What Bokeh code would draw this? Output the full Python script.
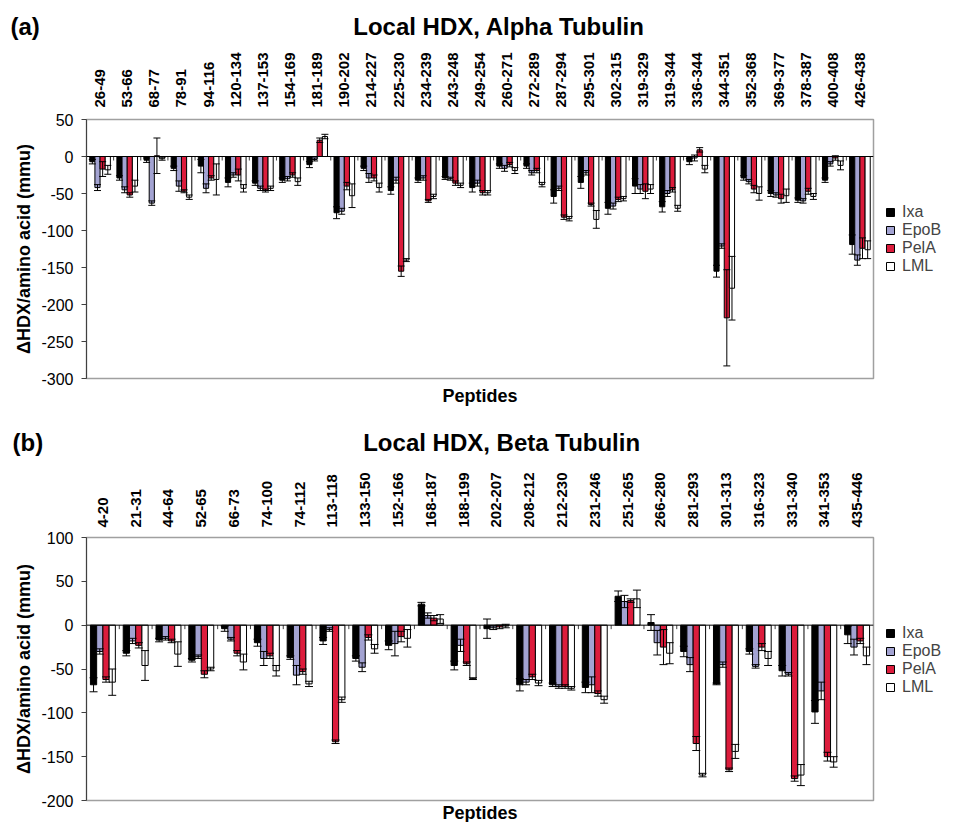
from bokeh.plotting import figure
from bokeh.models import (Range1d, FactorRange, Whisker, TeeHead, Legend, LegendItem,
                          Title, FixedTicker, ColumnDataSource, Span)
from bokeh.transform import dodge
from bokeh.layouts import column
from bokeh.embed import file_html
from bokeh.resources import INLINE

# ---------------- data: panel (a) Alpha tubulin ----------------
cats_a = ["26-49", "53-66", "68-77", "78-91", "94-116", "120-134", "137-153", "154-169",
          "181-189", "190-202", "214-227", "225-230", "234-239", "243-248", "249-254",
          "260-271", "272-289", "287-294", "295-301", "302-315", "319-329", "319-344",
          "336-344", "344-351", "352-368", "369-377", "378-387", "400-408", "426-438"]
ixa_a = [-7, -29, -5, -16, -13, -35, -36, -32, -11, -76, -16, -46, -32, -29, -42, -13, -13,
         -54, -35, -70, -40, -68, -7, -155, -29, -50, -59, -32, -119]
ixa_a_err = [3, 3, 3, 3, 9, 6, 3, 3, 4, 8, 3, 5, 3, 2, 6, 3, 3, 9, 8, 8, 10, 7, 4, 8, 3, 4,
             3, 3, 13]
epob_a = [-42, -45, -63, -40, -43, -25, -43, -30, -4, -74, -29, -32, -29, -30, -36, -16, -22,
          -43, -22, -67, -44, -50, -2, -121, -34, -52, -60, -10, -140]
epob_a_err = [4, 4, 3, 7, 6, 3, 3, 3, 2, 4, 6, 4, 3, 2, 4, 4, 3, 3, 3, 4, 6, 4, 4, 3, 3, 3,
              3, 3, 7]
pela_a = [-17, -52, 1, -47, -29, -25, -46, -25, 22, -40, -29, -155, -60, -36, -49, -11, -19,
          -82, -65, -58, -47, -45, 9, -218, -44, -57, -47, -2, -124]
pela_a_err = [10, 3, 24, 2, 3, 8, 2, 3, 3, 5, 4, 7, 2, 3, 3, 3, 3, 3, 2, 3, 10, 3, 3, 65, 5,
              6, 4, 3, 14]
lml_a = [-18, -40, -3, -55, -31, -43, -43, -34, 27, -53, -42, -140, -54, -39, -49, -19, -38,
         -84, -85, -57, -44, -70, -17, -178, -50, -53, -54, -12, -126]
lml_a_err = [6, 8, 2, 3, 21, 5, 3, 5, 3, 16, 6, 2, 3, 3, 3, 4, 3, 3, 12, 3, 6, 4, 5, 43, 9, 9,
             4, 6, 12]
yticks_a = [-300, -250, -200, -150, -100, -50, 0, 50]

# ---------------- data: panel (b) Beta tubulin ----------------
cats_b = ["4-20", "21-31", "44-64", "52-65", "66-73", "74-100", "74-112", "113-118", "133-150",
          "152-166", "168-187", "188-199", "202-207", "208-212", "212-230", "231-246",
          "251-265", "266-280", "281-293", "301-313", "316-323", "331-340", "341-353", "435-446"]
ixa_b = [-68, -32, -17, -40, -4, -20, -37, -18, -38, -23, 24, -46, -4, -68, -68, -71, 33, 3,
         -30, -67, -30, -52, -99, -11]
ixa_b_err = [8, 3, 2, 2, 3, 4, 2, 4, 3, 5, 2, 5, 11, 7, 2, 6, 6, 9, 6, 1, 3, 6, 13, 10]
epob_b = [-30, -18, -15, -36, -16, -38, -57, -5, -48, -21, 11, -23, -3, -65, -70, -68, 27, -20,
          -45, -45, -47, -56, -75, -25]
epob_b_err = [3, 3, 2, 2, 2, 8, 11, 2, 5, 14, 3, 7, 2, 3, 2, 9, 7, 14, 8, 3, 2, 2, 10, 9]
pela_b = [-62, -23, -18, -56, -32, -35, -53, -133, -14, -13, 8, -44, -2, -59, -70, -78, 28,
          -25, -135, -165, -25, -175, -150, -18]
pela_b_err = [3, 3, 2, 4, 3, 3, 3, 2, 3, 6, 3, 2, 2, 3, 2, 3, 2, 20, 8, 2, 4, 3, 5, 3]
lml_b = [-65, -46, -33, -50, -42, -52, -67, -85, -27, -15, 7, -61, -1, -66, -72, -85, 30, -32,
         -171, -144, -38, -171, -156, -35]
lml_b_err = [15, 17, 14, 2, 9, 6, 3, 3, 5, 10, 5, 1, 2, 3, 2, 4, 10, 12, 2, 8, 8, 12, 6, 10]
yticks_b = [-200, -150, -100, -50, 0, 50, 100]

series = ["Ixa", "EpoB", "PelA", "LML"]
colors = ["#000000", "#A3A3D2", "#DC1C3C", "#FFFFFF"]
offsets = [-0.285, -0.095, 0.095, 0.285]
FONT = "Liberation Sans"
NBSP = "\u00a0"


def make_panel(tag, title, cats, vals, errs, yticks, frame_h, top_b, bottom_b, legend_vy,
               cap, label_standoff, title_standoff, title_offset, n_gap, pep_standoff):
    ymin, ymax = yticks[0], yticks[-1]
    p = figure(x_range=FactorRange(*cats, range_padding=0, factor_padding=0),
               y_range=Range1d(ymin, ymax), frame_width=787, frame_height=frame_h,
               x_axis_location="above", output_backend="svg", toolbar_location=None,
               min_border_left=86, min_border_right=80, min_border_top=top_b,
               min_border_bottom=bottom_b)
    p.background_fill_color = "white"
    p.border_fill_color = "white"
    p.outline_line_color = "#A0A0A0"
    p.outline_line_width = 1.5
    p.xgrid.visible = False
    p.ygrid.visible = False

    # panel tag + title on one line
    p.title.text = tag + NBSP * n_gap + title
    p.title.text_font = FONT
    p.title.text_font_size = "24px"
    p.title.text_font_style = "bold"
    p.title.text_color = "black"
    p.title.align = "left"
    p.title.offset = title_offset
    p.title.standoff = title_standoff

    # top category axis
    xa = p.xaxis[0]
    xa.major_label_orientation = "vertical"
    xa.major_label_text_font = FONT
    xa.major_label_text_font_size = "15px"
    xa.major_label_text_font_style = "bold"
    xa.major_label_text_color = "black"
    xa.axis_line_color = None
    xa.major_tick_line_color = None
    xa.major_tick_out = 0
    xa.major_tick_in = 0
    xa.major_label_standoff = label_standoff

    # y axis
    ya = p.yaxis[0]
    ya.ticker = FixedTicker(ticks=yticks)
    ya.major_label_overrides = {t: str(t) for t in yticks}
    ya.minor_tick_line_color = None
    ya.major_tick_out = 5
    ya.major_tick_in = 0
    ya.axis_line_color = "#404040"
    ya.major_tick_line_color = "#404040"
    ya.major_label_text_font = FONT
    ya.major_label_text_font_size = "16px"
    ya.major_label_text_color = "black"
    ya.major_label_standoff = 8
    ya.axis_label = "ΔHDX/amino acid (mmu)"
    ya.axis_label_text_font = FONT
    ya.axis_label_text_font_size = "18px"
    ya.axis_label_text_font_style = "bold"
    ya.axis_label_text_color = "black"
    ya.axis_label_standoff = 4

    data = dict(cat=cats)
    for s, v, e in zip(series, vals, errs):
        data[s] = v
        data[s + "_hi"] = [a + b for a, b in zip(v, e)]
        data[s + "_lo"] = [a - b for a, b in zip(v, e)]
    src = ColumnDataSource(data)

    # zero line with small separator ticks between categories
    p.add_layout(Span(location=0, dimension="width", line_color="black", line_width=1))
    tick_len = 4 * (ymax - ymin) / frame_h
    p.segment(x0=dodge("cat", -0.5, range=p.x_range), x1=dodge("cat", -0.5, range=p.x_range),
              y0=0, y1=-tick_len, source=ColumnDataSource(dict(cat=cats)),
              line_color="#404040", line_width=1)

    items = []
    for s, c, off in zip(series, colors, offsets):
        r = p.vbar(x=dodge("cat", off, range=p.x_range), top=s, bottom=0, width=0.19,
                   source=src, fill_color=c, line_color="black", line_width=1)
        items.append(LegendItem(label=s, renderers=[r]))
        w = Whisker(base=dodge("cat", off, range=p.x_range), upper=s + "_hi", lower=s + "_lo",
                    source=src, line_color="black", line_width=1, level="annotation",
                    upper_head=TeeHead(size=cap, line_color="black", line_width=1),
                    lower_head=TeeHead(size=cap, line_color="black", line_width=1))
        p.add_layout(w)

    leg = Legend(items=items, location=(12, legend_vy), border_line_color=None,
                 background_fill_alpha=0, glyph_width=10, glyph_height=10, label_height=18,
                 spacing=0, padding=5, margin=0, label_standoff=7,
                 label_text_font=FONT, label_text_font_size="16px")
    p.add_layout(leg, "right")

    p.add_layout(Title(text="Peptides", align="center", text_font=FONT, text_color="black",
                       text_font_size="18px", text_font_style="bold",
                       standoff=pep_standoff), "below")
    return p


pa = make_panel("(a)", "Local HDX, Alpha Tubulin", cats_a,
                [ixa_a, epob_a, pela_a, lml_a], [ixa_a_err, epob_a_err, pela_a_err, lml_a_err],
                yticks_a, 259, 119, 33, 103, 7, 12, 19, -76, 47, 10)
pb = make_panel("(b)", "Local HDX, Beta Tubulin", cats_b,
                [ixa_b, epob_b, pela_b, lml_b], [ixa_b_err, epob_b_err, pela_b_err, lml_b_err],
                yticks_b, 263, 126, 0, 104, 8, 10, 28, -74, 48, 0)

layout = column(pa, pb, spacing=0)
open("out.html", "w").write(file_html(layout, INLINE))
